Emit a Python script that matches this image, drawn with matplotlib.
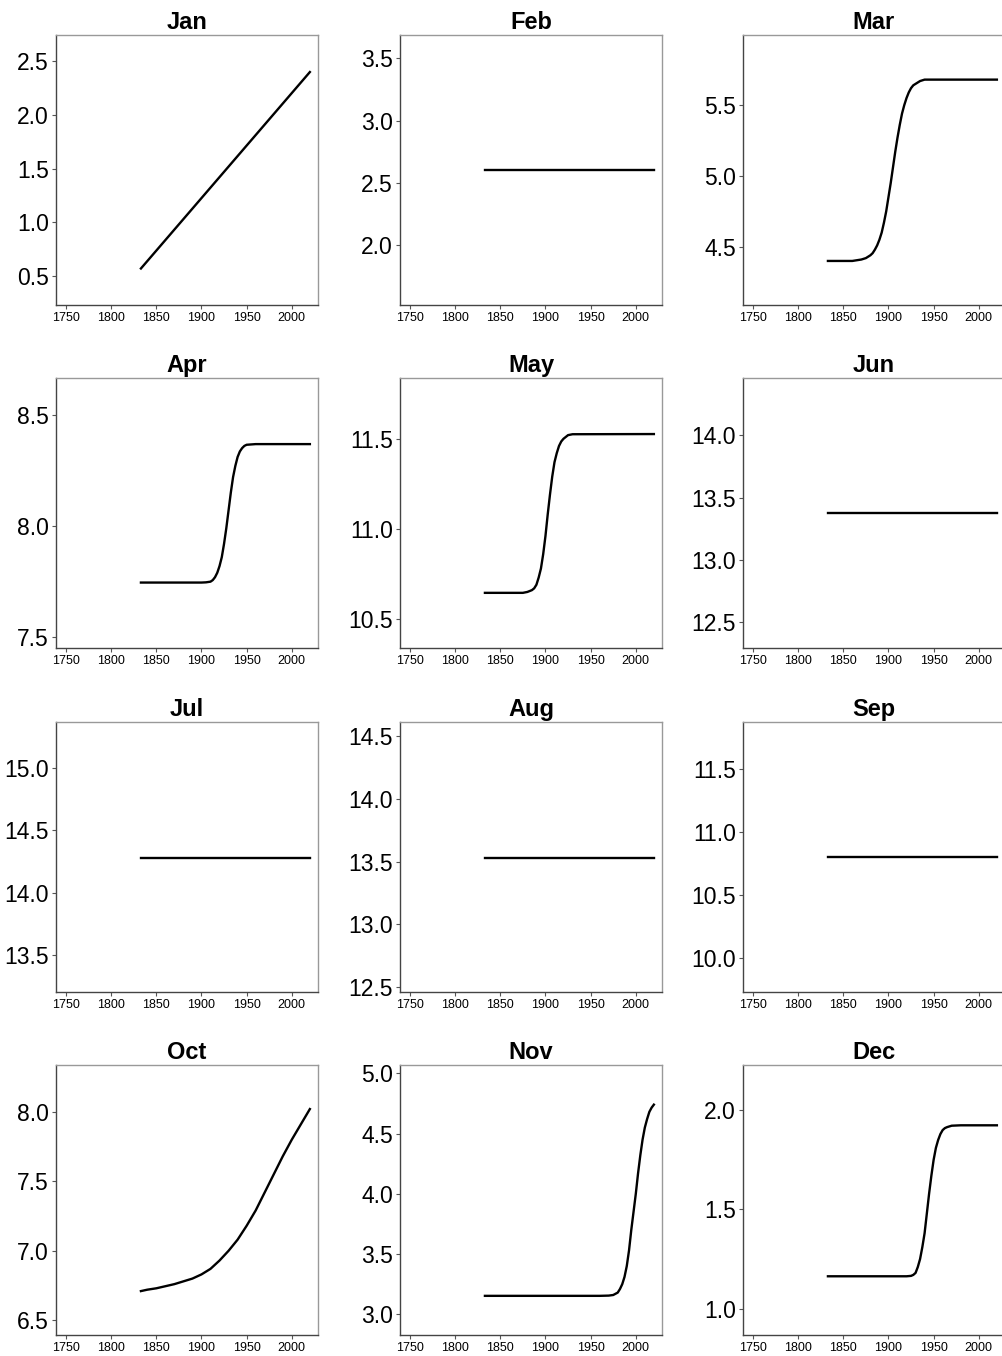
import matplotlib
matplotlib.use("Agg")
import matplotlib.pyplot as plt
from matplotlib.ticker import FormatStrFormatter

plt.rcParams['font.family'] = ['Liberation Sans', 'DejaVu Sans']

months = ['Jan', 'Feb', 'Mar', 'Apr', 'May', 'Jun',
          'Jul', 'Aug', 'Sep', 'Oct', 'Nov', 'Dec']

# values, year -> value
jan_x = [1833, 2020]
jan_y = [0.57, 2.40]

feb_x = [1833, 2020]
feb_y = [2.60, 2.60]

mar_x = [1833, 1850, 1860, 1870, 1875, 1880, 1882.5, 1885, 1887.5, 1890, 1892.5,
         1895, 1897.5, 1900, 1902.5, 1905, 1907.5, 1910, 1912.5, 1915, 1917.5,
         1920, 1922.5, 1925, 1927.5, 1930, 1935, 1940, 1950, 2020]
mar_y = [4.40, 4.40, 4.40, 4.41, 4.42, 4.44, 4.455, 4.48, 4.51, 4.55, 4.60,
         4.67, 4.75, 4.85, 4.95, 5.06, 5.17, 5.27, 5.36, 5.44, 5.50,
         5.55, 5.59, 5.62, 5.64, 5.65, 5.67, 5.68, 5.68, 5.68]

apr_x = [1833, 1900, 1905, 1910, 1912.5, 1915, 1917.5, 1920, 1922.5, 1925,
         1927.5, 1930, 1932.5, 1935, 1937.5, 1940, 1942.5, 1945, 1947.5, 1950,
         1960, 2020]
apr_y = [7.746, 7.746, 7.747, 7.75, 7.757, 7.77, 7.79, 7.82, 7.86, 7.92,
         7.99, 8.07, 8.15, 8.22, 8.27, 8.31, 8.335, 8.35, 8.36, 8.365,
         8.368, 8.368]

may_x = [1833, 1875, 1880, 1885, 1887.5, 1890, 1892.5, 1895, 1897.5, 1900,
         1902.5, 1905, 1907.5, 1910, 1912.5, 1915, 1917.5, 1920, 1925, 1930, 2020]
may_y = [10.645, 10.645, 10.65, 10.66, 10.67, 10.69, 10.73, 10.78, 10.86, 10.96,
         11.08, 11.19, 11.29, 11.37, 11.42, 11.46, 11.485, 11.50, 11.52, 11.525, 11.526]

jun_x = [1833, 2020]
jun_y = [13.375, 13.375]

jul_x = [1833, 2020]
jul_y = [14.28, 14.28]

aug_x = [1833, 2020]
aug_y = [13.53, 13.53]

sep_x = [1833, 2020]
sep_y = [10.80, 10.80]

oct_x = [1833, 1840, 1850, 1860, 1870, 1880, 1890, 1900, 1910, 1920, 1930,
         1940, 1950, 1960, 1970, 1980, 1990, 2000, 2010, 2020]
oct_y = [6.71, 6.72, 6.73, 6.745, 6.76, 6.78, 6.80, 6.83, 6.87, 6.93, 7.00,
         7.08, 7.18, 7.29, 7.42, 7.55, 7.68, 7.80, 7.91, 8.02]

nov_x = [1833, 1960, 1970, 1975, 1977.5, 1980, 1982.5, 1985, 1987.5, 1990,
         1992.5, 1995, 1997.5, 2000, 2002.5, 2005, 2007.5, 2010, 2012.5, 2015,
         2017.5, 2020]
nov_y = [3.153, 3.153, 3.155, 3.16, 3.17, 3.18, 3.21, 3.25, 3.31, 3.40,
         3.53, 3.70, 3.85, 4.00, 4.17, 4.32, 4.45, 4.55, 4.62, 4.68,
         4.715, 4.74]

dec_x = [1833, 1920, 1925, 1927.5, 1930, 1932.5, 1935, 1937.5, 1940, 1942.5,
         1945, 1947.5, 1950, 1952.5, 1955, 1957.5, 1960, 1962.5, 1965, 1970,
         1980, 2020]
dec_y = [1.163, 1.163, 1.165, 1.17, 1.18, 1.21, 1.25, 1.31, 1.38, 1.48,
         1.58, 1.67, 1.75, 1.81, 1.85, 1.88, 1.90, 1.91, 1.915, 1.922,
         1.924, 1.924]

xs = [jan_x, feb_x, mar_x, apr_x, may_x, jun_x, jul_x, aug_x, sep_x, oct_x, nov_x, dec_x]
ys = [jan_y, feb_y, mar_y, apr_y, may_y, jun_y, jul_y, aug_y, sep_y, oct_y, nov_y, dec_y]

ylims = [(0.23, 2.745), (1.518, 3.687), (4.089, 5.995), (7.452, 8.665),
         (10.339, 11.837), (12.291, 14.461), (13.203, 15.367), (12.457, 14.615),
         (9.726, 11.878), (6.394, 8.337), (2.828, 5.069), (0.867, 2.228)]
yticks = [[0.5, 1.0, 1.5, 2.0, 2.5], [2.0, 2.5, 3.0, 3.5], [4.5, 5.0, 5.5],
          [7.5, 8.0, 8.5], [10.5, 11.0, 11.5], [12.5, 13.0, 13.5, 14.0],
          [13.5, 14.0, 14.5, 15.0], [12.5, 13.0, 13.5, 14.0, 14.5],
          [10.0, 10.5, 11.0, 11.5], [6.5, 7.0, 7.5, 8.0],
          [3.0, 3.5, 4.0, 4.5, 5.0], [1.0, 1.5, 2.0]]
xticks = [1750, 1800, 1850, 1900, 1950, 2000]

W, H = 1002, 1356
fig = plt.figure(figsize=(W / 100, H / 100), dpi=100)

lefts = [56, 400, 743]
tops = [35, 378, 722, 1065]
aw, ah = 262, 270

for i, m in enumerate(months):
    r, c = divmod(i, 3)
    ax = fig.add_axes([lefts[c] / W, 1 - (tops[r] + ah) / H, aw / W, ah / H])
    ax.plot(xs[i], ys[i], color='black', lw=1.7)
    ax.set_xlim(1739, 2029)
    ax.set_ylim(*ylims[i])
    ax.set_xticks(xticks)
    ax.set_yticks(yticks[i])
    ax.yaxis.set_major_formatter(FormatStrFormatter('%.1f'))
    ax.tick_params(axis='x', labelsize=9, length=3, width=0.8, color='#555555', pad=2)
    ax.tick_params(axis='y', labelsize=16.5, length=3, width=0.8, color='#555555', pad=2)
    for s in ['top', 'right']:
        ax.spines[s].set_color('#999999')
        ax.spines[s].set_linewidth(1.0)
    for s in ['left', 'bottom']:
        ax.spines[s].set_color('#444444')
        ax.spines[s].set_linewidth(1.0)
    ax.set_title(m, fontsize=17, fontweight='bold', pad=4)

fig.savefig('out.png', dpi=100)
